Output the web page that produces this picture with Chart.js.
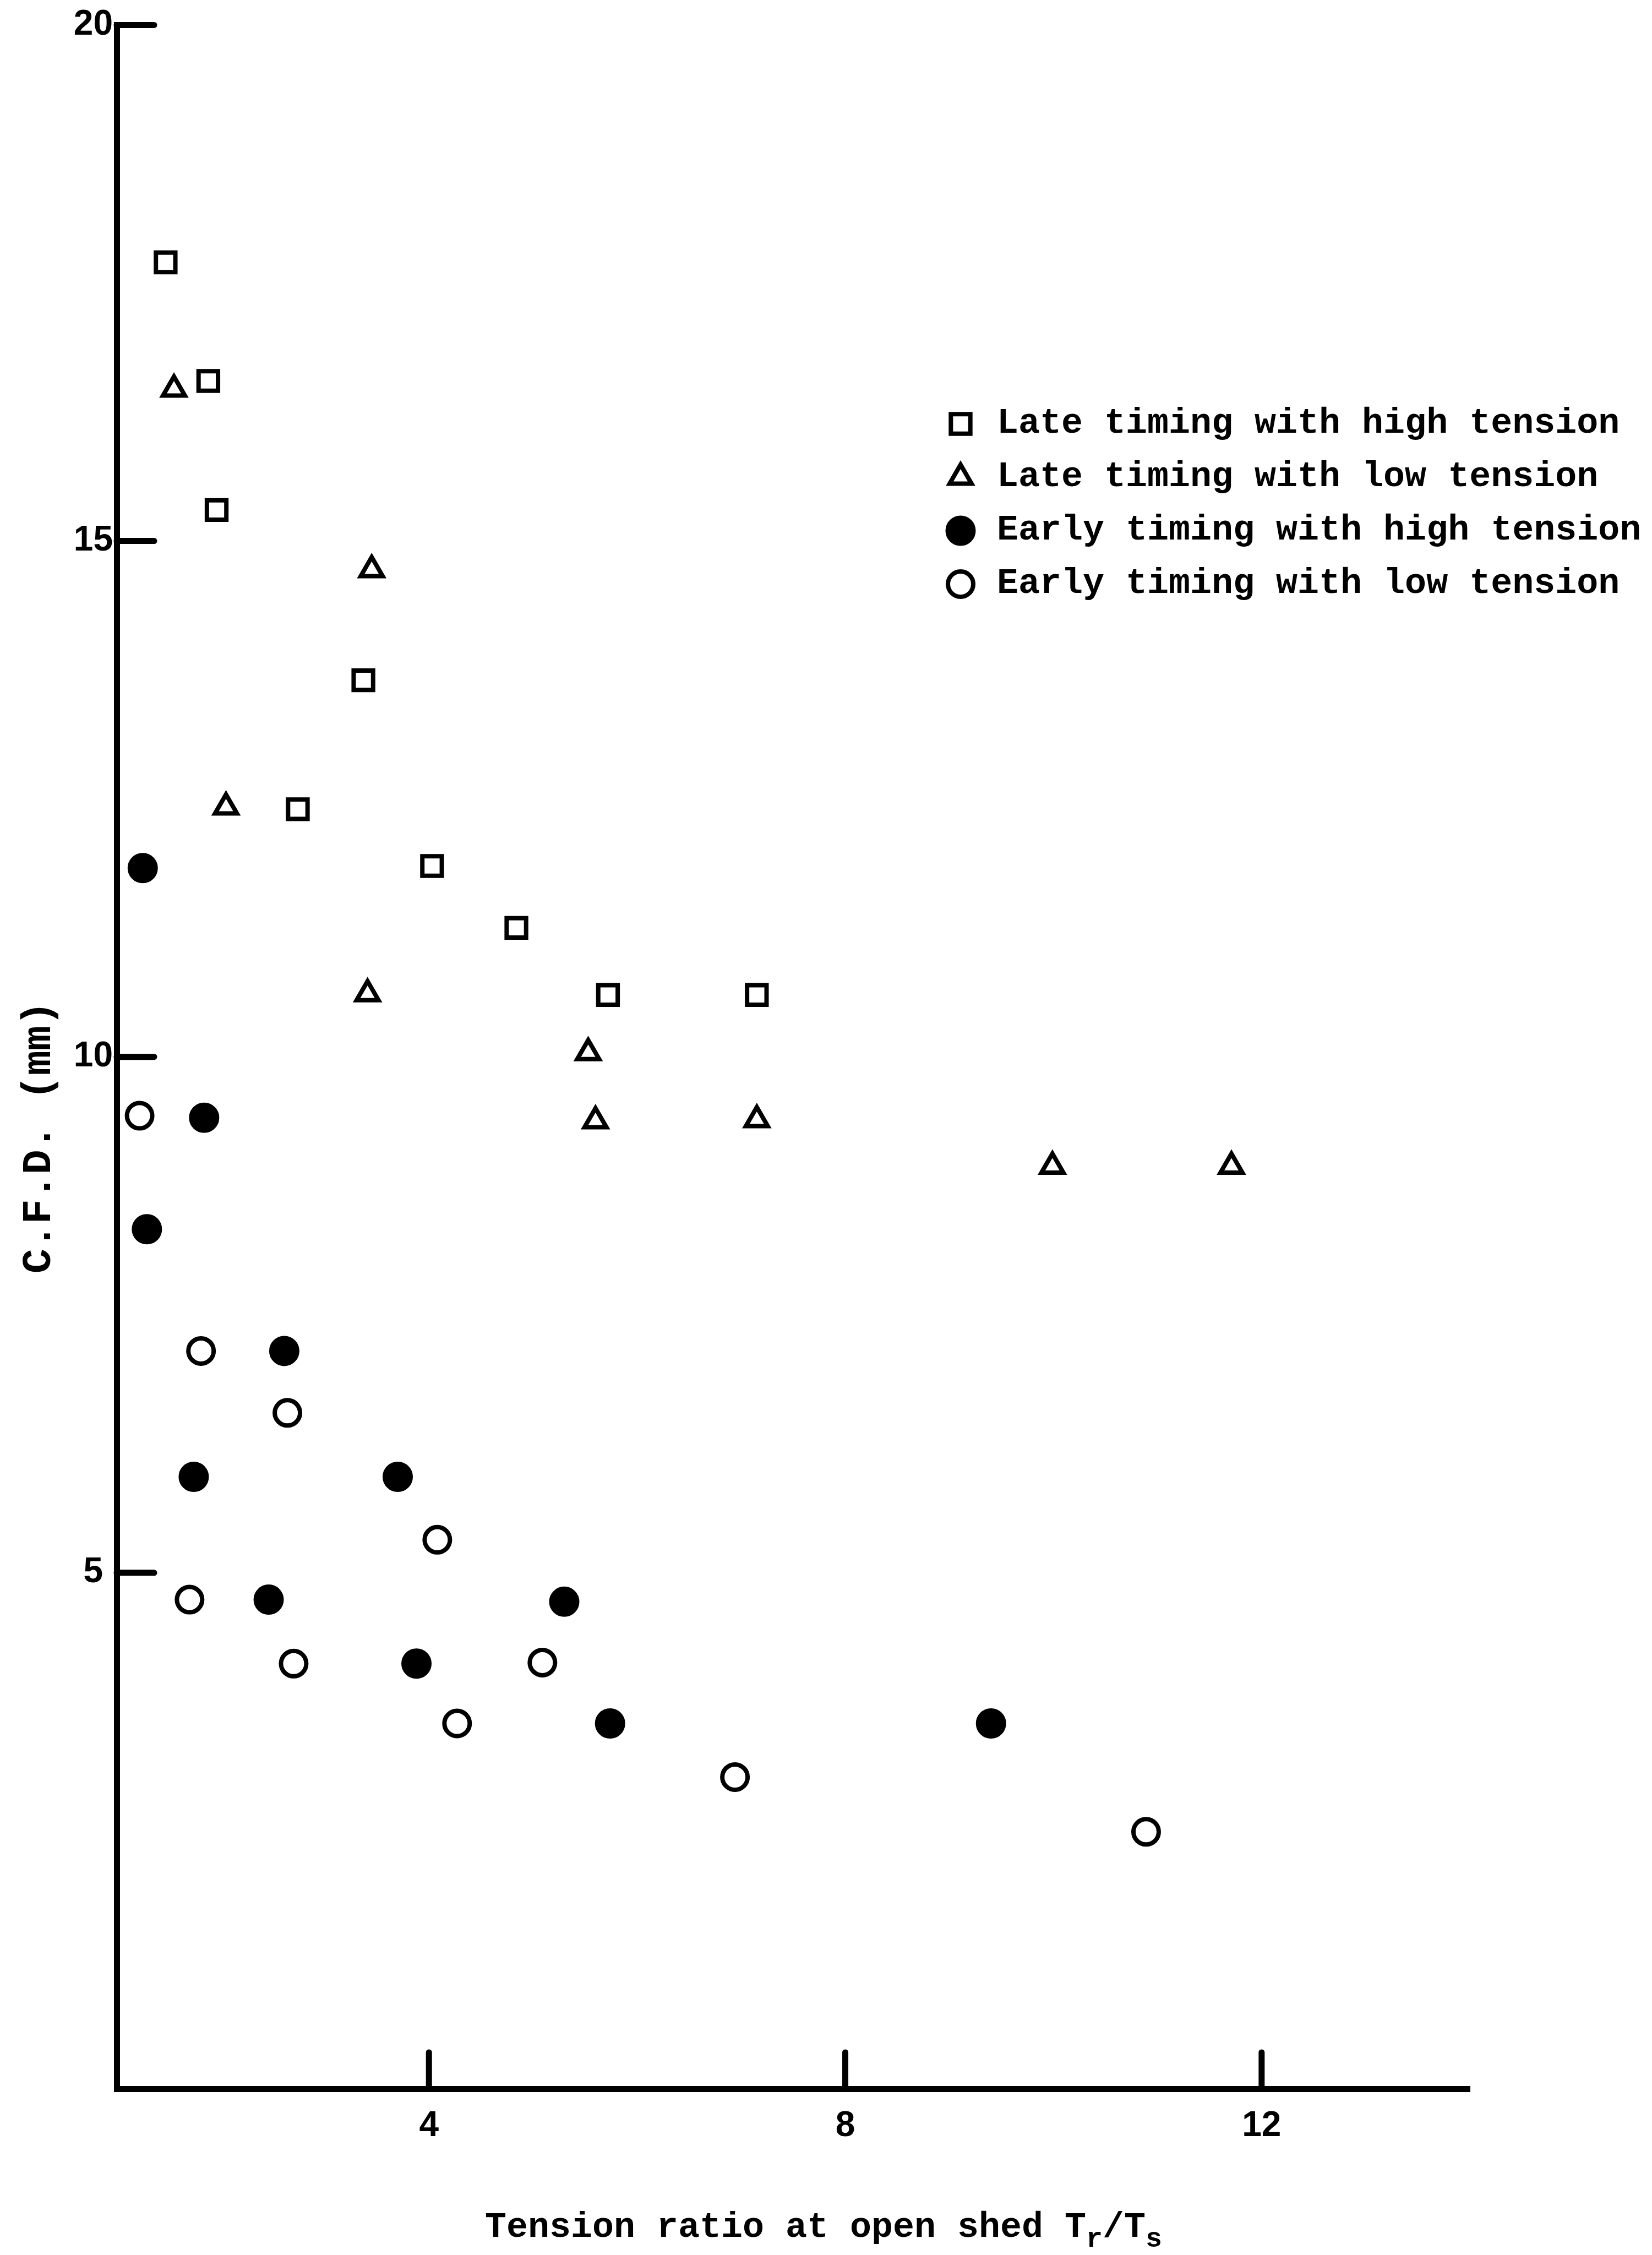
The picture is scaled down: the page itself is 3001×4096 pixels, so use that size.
<!DOCTYPE html>
<html>
<head>
<meta charset="utf-8">
<title>C.F.D. against tension ratio at open shed</title>
<script src="https://cdn.jsdelivr.net/npm/chart.js@4.4.1/dist/chart.umd.min.js"></script>
<style>
  html, body { margin: 0; padding: 0; background: #fff; }
  #wrap { width: 3001px; height: 4096px; }
</style>
</head>
<body>
<div id="wrap"><canvas id="myChart" width="3001" height="4096"></canvas></div>
<script>
// Readings: tension ratio Tr/Ts (x) against C.F.D. in mm (y)
var lateHighX = [1.47, 1.88, 1.96, 3.37, 2.74, 4.03, 4.84, 5.72, 7.15];
var lateHighY = [17.7, 16.55, 15.3, 13.65, 12.4, 11.85, 11.25, 10.6, 10.6];

var lateLowX = [1.55, 3.45, 2.05, 3.41, 5.53, 5.60, 7.15, 9.99, 11.71];
var lateLowY = [16.47, 14.72, 12.42, 10.61, 10.04, 9.38, 9.39, 8.94, 8.94];

var earlyHighX = [1.25, 1.84, 1.29, 2.61, 1.74, 3.70, 2.46, 5.30, 3.88, 5.74, 9.40];
var earlyHighY = [11.83, 9.41, 8.33, 7.15, 5.93, 5.93, 4.74, 4.72, 4.12, 3.54, 3.54];

var earlyLowX = [1.22, 1.81, 2.64, 4.08, 1.70, 2.70, 5.09, 4.27, 6.94, 10.89];
var earlyLowY = [9.43, 7.15, 6.55, 5.32, 4.74, 4.12, 4.13, 3.54, 3.02, 2.49];

var seriesLabels = [
  'Late timing with high tension',
  'Late timing with low tension',
  'Early timing with high tension',
  'Early timing with low tension'
];

var xTicks = [4, 8, 12];
var yTicks = [5, 10, 15, 20];

// x caption pieces: [text, subscript?]
var xCaption = [['Tension ratio at open shed T', false], ['r', true], ['/T', false], ['s', true]];
var yCaption = 'C.F.D. (mm)';

var typeFont = '"Liberation Mono", monospace';
var tickFont = { family: '"Liberation Sans", sans-serif', size: 64, weight: 'bold' };

function pairs(xs, ys) {
  return xs.map(function (x, i) { return { x: x, y: ys[i] }; });
}

// short tick marks pointing into the plot, like the hand-drawn axes
var inwardTicks = {
  id: 'inwardTicks',
  afterDraw: function (chart) {
    var ctx = chart.ctx;
    var area = chart.chartArea;
    var xs = chart.scales.x;
    var ys = chart.scales.y;
    ctx.save();
    ctx.strokeStyle = '#000';
    ctx.lineWidth = 11;
    ctx.lineCap = 'round';
    xTicks.forEach(function (v) {
      var px = xs.getPixelForValue(v);
      ctx.beginPath();
      ctx.moveTo(px, area.bottom);
      ctx.lineTo(px, area.bottom - 66);
      ctx.stroke();
    });
    yTicks.forEach(function (v) {
      var py = ys.getPixelForValue(v);
      ctx.beginPath();
      ctx.moveTo(area.left, py);
      ctx.lineTo(area.left + 68, py);
      ctx.stroke();
    });
    ctx.restore();
  }
};

// axis captions, typed text with subscripts on the ratio
var axisCaptions = {
  id: 'axisCaptions',
  afterDraw: function (chart) {
    var ctx = chart.ctx;
    var area = chart.chartArea;
    var big = 'bold 65px ' + typeFont;
    var small = 'bold 50px ' + typeFont;
    ctx.save();
    ctx.fillStyle = '#000';
    ctx.textBaseline = 'alphabetic';
    ctx.textAlign = 'left';

    var total = 0;
    xCaption.forEach(function (p) {
      ctx.font = p[1] ? small : big;
      total += ctx.measureText(p[0]).width;
    });
    var cx = (area.left + area.right) / 2 + 55 - total / 2;
    var base = 4063;
    xCaption.forEach(function (p) {
      ctx.font = p[1] ? small : big;
      ctx.fillText(p[0], cx, p[1] ? base + 18 : base);
      cx += ctx.measureText(p[0]).width;
    });

    ctx.translate(72, (area.top + area.bottom) / 2 + 146);
    ctx.rotate(-Math.PI / 2);
    ctx.font = 'bold 75px ' + typeFont;
    ctx.textAlign = 'center';
    ctx.textBaseline = 'middle';
    ctx.fillText(yCaption, 0, 0);
    ctx.restore();
  }
};

// key in the upper right, symbol then label
var symbolKey = {
  id: 'symbolKey',
  afterDraw: function (chart) {
    var ctx = chart.ctx;
    ctx.save();
    ctx.textBaseline = 'middle';
    ctx.textAlign = 'left';
    chart.data.datasets.forEach(function (ds, i) {
      var cy = 770 + i * 97;
      ctx.fillStyle = ds.backgroundColor;
      ctx.strokeStyle = ds.borderColor;
      ctx.lineWidth = ds.borderWidth;
      Chart.helpers.drawPoint(ctx, {
        pointStyle: ds.pointStyle,
        radius: ds.pointRadius,
        rotation: 0,
        borderWidth: ds.borderWidth
      }, 1745, cy);
      ctx.fillStyle = '#000';
      ctx.font = 'bold 65px ' + typeFont;
      ctx.fillText(ds.label, 1811, cy);
    });
    ctx.restore();
  }
};

var ctx = document.getElementById('myChart').getContext('2d');

var myChart = new Chart(ctx, {
  type: 'scatter',
  data: {
    datasets: [{
      label: seriesLabels[0],
      data: pairs(lateHighX, lateHighY),
      pointStyle: 'rect',
      pointRadius: 25,
      borderWidth: 8,
      borderColor: '#000',
      backgroundColor: '#fff'
    }, {
      label: seriesLabels[1],
      data: pairs(lateLowX, lateLowY),
      pointStyle: 'triangle',
      pointRadius: 23,
      borderWidth: 8,
      borderColor: '#000',
      backgroundColor: '#fff'
    }, {
      label: seriesLabels[2],
      data: pairs(earlyHighX, earlyHighY),
      pointStyle: 'circle',
      pointRadius: 26,
      borderWidth: 3,
      borderColor: '#000',
      backgroundColor: '#000'
    }, {
      label: seriesLabels[3],
      data: pairs(earlyLowX, earlyLowY),
      pointStyle: 'circle',
      pointRadius: 23,
      borderWidth: 8,
      borderColor: '#000',
      backgroundColor: '#fff'
    }]
  },
  options: {
    responsive: false,
    animation: false,
    events: [],
    layout: {
      padding: { top: 39, right: 331, bottom: 0, left: 0 }
    },
    plugins: {
      legend: { display: false },
      tooltip: { enabled: false }
    },
    scales: {
      x: {
        type: 'linear',
        position: 'bottom',
        min: 1,
        max: 14,
        afterBuildTicks: function (scale) {
          scale.ticks = xTicks.map(function (v) { return { value: v }; });
        },
        afterFit: function (scale) { scale.height = 302; },
        grid: { drawOnChartArea: false, drawTicks: false },
        border: { display: true, color: '#000', width: 11 },
        ticks: { color: '#000', font: tickFont, padding: 30, maxRotation: 0 }
      },
      y: {
        type: 'linear',
        min: 0,
        max: 20,
        afterBuildTicks: function (scale) {
          scale.ticks = yTicks.map(function (v) { return { value: v }; });
        },
        afterFit: function (scale) { scale.width = 212; },
        grid: { drawOnChartArea: false, drawTicks: false },
        border: { display: true, color: '#000', width: 11 },
        ticks: { color: '#000', font: tickFont, padding: 7, crossAlign: 'center' }
      }
    }
  },
  plugins: [inwardTicks, axisCaptions, symbolKey]
});
</script>
</body>
</html>
